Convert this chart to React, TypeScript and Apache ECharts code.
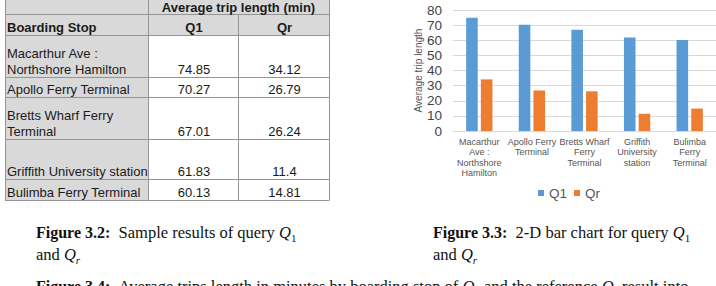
import React, { useEffect, useRef } from "react";
import * as echarts from "echarts";

// ---- data ----
const stops = [
  "Macarthur Ave : Northshore Hamilton",
  "Apollo Ferry Terminal",
  "Bretts Wharf Ferry Terminal",
  "Griffith University station",
  "Bulimba Ferry Terminal",
];
const tableStopLabels = [
  "Macarthur Ave :\nNorthshore Hamilton",
  "Apollo Ferry Terminal",
  "Bretts Wharf Ferry\nTerminal",
  "Griffith University station",
  "Bulimba Ferry Terminal",
];
const axisStopLabels = [
  "Macarthur\nAve :\nNorthshore\nHamilton",
  "Apollo Ferry\nTerminal",
  "Bretts Wharf\nFerry\nTerminal",
  "Griffith\nUniversity\nstation",
  "Bulimba\nFerry\nTerminal",
];
const q1Values = [74.85, 70.27, 67.01, 61.83, 60.13];
const qrValues = [34.12, 26.79, 26.24, 11.4, 14.81];
const seriesNames = ["Q1", "Qr"];
const tableTitle = "Average trip length (min)";
const tableHeader = ["Boarding Stop", "Q1", "Qr"];
const yAxisTitle = "Average trip length";

// ---- layout (not data) ----
const SANS = "'Liberation Sans', Arial, sans-serif";
const SERIF = "'Liberation Serif', 'Times New Roman', serif";
const colX = [5, 148, 238, 329];
const rowHeights = [42, 20, 42, 40, 21];
const headTop = -1;
const head1Bottom = 14;
const head2Bottom = 35;
const GRAY = "#d9d9d9";
const LINE = "#949494";
const TXT = "#1a1a1a";
const AX = "#555555";

function buildTable(): any[] {
  const els: any[] = [];
  const w = colX[3] - colX[0];
  const rowBottoms: number[] = [];
  let yy = head2Bottom;
  rowHeights.forEach((h) => {
    yy += h;
    rowBottoms.push(yy);
  });
  const tableBottom = rowBottoms[rowBottoms.length - 1];
  els.push({ type: "rect", shape: { x: colX[0], y: headTop, width: w, height: head2Bottom - headTop }, style: { fill: GRAY } });
  els.push({ type: "rect", shape: { x: colX[0], y: head2Bottom, width: colX[1] - colX[0], height: tableBottom - head2Bottom }, style: { fill: GRAY } });
  [head1Bottom, head2Bottom, ...rowBottoms].forEach((y) => {
    els.push({ type: "line", shape: { x1: colX[0], y1: y + 0.5, x2: colX[3], y2: y + 0.5 }, style: { stroke: LINE, lineWidth: 1 } });
  });
  [colX[0], colX[1], colX[3]].forEach((x) => {
    els.push({ type: "line", shape: { x1: x + 0.5, y1: headTop, x2: x + 0.5, y2: tableBottom + 0.5 }, style: { stroke: LINE, lineWidth: 1 } });
  });
  els.push({ type: "line", shape: { x1: colX[2] + 0.5, y1: head1Bottom, x2: colX[2] + 0.5, y2: tableBottom + 0.5 }, style: { stroke: LINE, lineWidth: 1 } });
  els.push({
    type: "text", x: (colX[1] + colX[3]) / 2, y: 7,
    style: { text: tableTitle, fill: TXT, font: `bold 13px ${SANS}`, align: "center", verticalAlign: "middle" },
  });
  els.push({
    type: "text", x: colX[0] + 2, y: head2Bottom,
    style: { text: tableHeader[0], fill: TXT, font: `bold 13px ${SANS}`, lineHeight: 16, align: "left", verticalAlign: "bottom" },
  });
  [1, 2].forEach((c) => {
    els.push({
      type: "text", x: (colX[c] + colX[c + 1]) / 2 + 1, y: head2Bottom,
      style: { text: tableHeader[c], fill: TXT, font: `bold 13px ${SANS}`, lineHeight: 16, align: "center", verticalAlign: "bottom" },
    });
  });
  stops.forEach((_, i) => {
    const yb = rowBottoms[i];
    els.push({
      type: "text", x: colX[0] + 2, y: yb,
      style: { text: tableStopLabels[i], fill: TXT, fontSize: 13, fontFamily: SANS, lineHeight: 16, align: "left", verticalAlign: "bottom" },
    });
    els.push({
      type: "text", x: (colX[1] + colX[2]) / 2 + 1, y: yb,
      style: { text: String(q1Values[i]), fill: TXT, fontSize: 13, fontFamily: SANS, lineHeight: 16, align: "center", verticalAlign: "bottom" },
    });
    els.push({
      type: "text", x: (colX[2] + colX[3]) / 2 + 1, y: yb,
      style: { text: String(qrValues[i]), fill: TXT, fontSize: 13, fontFamily: SANS, lineHeight: 16, align: "center", verticalAlign: "bottom" },
    });
  });
  return els;
}

const captionRich = {
  b: { fontWeight: "bold", fontSize: 16, fontFamily: SERIF, lineHeight: 22, fill: "#111" },
  i: { fontStyle: "italic", fontSize: 16.5, fontFamily: SERIF, lineHeight: 22, fill: "#111" },
  s: { fontSize: 11, fontFamily: SERIF, lineHeight: 11, verticalAlign: "bottom", fill: "#111" },
  si: { fontSize: 11, fontStyle: "italic", fontFamily: SERIF, lineHeight: 11, verticalAlign: "bottom", fill: "#111" },
};

function caption(x: number, y: number, text: string): any {
  return {
    type: "text", x, y,
    style: {
      text, fill: "#111", fontSize: 16.5, fontFamily: SERIF, lineHeight: 22,
      align: "left", verticalAlign: "top", rich: captionRich,
    },
  };
}

export default function App() {
  const ref = useRef<HTMLDivElement>(null);
  useEffect(() => {
    if (!ref.current) return;
    const chart = echarts.init(ref.current, undefined, { renderer: "svg" });
    chart.setOption({
      animation: false,
      backgroundColor: "#ffffff",
      grid: { left: 453, right: 0, top: 10, height: 121, outerBoundsMode: "none", containLabel: false },
      legend: {
        data: seriesNames,
        left: 538, top: 186, padding: 0,
        icon: "rect", itemWidth: 6, itemHeight: 6, itemGap: 7,
        textStyle: { fontSize: 13.5, color: AX, fontFamily: SANS },
      },
      xAxis: {
        type: "category",
        data: axisStopLabels,
        axisLine: { lineStyle: { color: GRAY } },
        axisTick: { show: false },
        axisLabel: { interval: 0, fontSize: 9, lineHeight: 10.3, color: AX, margin: 6, fontFamily: SANS },
      },
      yAxis: {
        type: "value",
        min: 0, max: 80, interval: 10,
        name: yAxisTitle, nameLocation: "middle", nameGap: 30,
        nameTextStyle: { fontSize: 10, color: AX, fontFamily: SANS },
        axisLine: { show: false },
        axisTick: { show: false },
        axisLabel: { fontSize: 13.5, color: "#444444", margin: 11, fontFamily: SANS },
        splitLine: { lineStyle: { color: GRAY } },
      },
      series: [
        { type: "bar", name: seriesNames[0], data: q1Values, itemStyle: { color: "#5b9bd5" }, barGap: "27%", barCategoryGap: "50%" },
        { type: "bar", name: seriesNames[1], data: qrValues, itemStyle: { color: "#ed7d31" }, barGap: "27%", barCategoryGap: "50%" },
      ],
      graphic: [
        ...buildTable(),
        caption(36, 221, "{b|Figure 3.2:}\u2002Sample results of query {i|Q}{s|1}\nand {i|Q}{si|r}"),
        caption(433, 221, "{b|Figure 3.3:}\u20022-D bar chart for query {i|Q}{s|1}\nand {i|Q}{si|r}"),
        caption(36, 275, "{b|Figure 3.4:}\u2002Average trips length in minutes by boarding stop of {i|Q}{s|1} and the reference {i|Q}{si|r} result into"),
      ],
    });
    return () => chart.dispose();
  }, []);
  return <div ref={ref} style={{ position: "absolute", left: 0, top: 0, width: 716, height: 286 }} />;
}
